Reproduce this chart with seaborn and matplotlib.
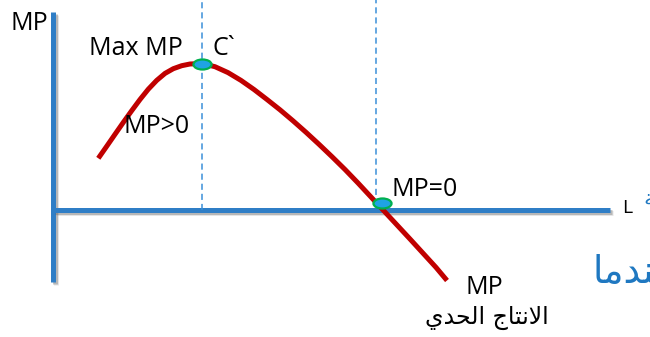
import matplotlib
matplotlib.use("Agg")
import seaborn as sns
import matplotlib.pyplot as plt
import matplotlib.patheffects as pe
from matplotlib.path import Path
from matplotlib.transforms import Affine2D

# Marginal product curve (L on x, MP on y)
labour = [4.53, 5.37, 6.20, 7.03, 7.87, 8.70, 9.53, 10.37, 11.20, 12.03, 12.87, 13.70,
          14.90, 16.20, 17.50, 18.80, 20.10, 21.40, 22.70, 24.00, 25.30, 26.60, 27.90,
          29.20, 30.50, 31.80, 33.10, 34.40, 35.70, 37.00, 38.30, 39.40]
mp = [5.17, 6.37, 7.57, 8.76, 9.93, 11.05, 12.08, 12.96, 13.66, 14.13, 14.43, 14.60,
      14.65, 14.33, 13.74, 12.96, 12.05, 11.05, 10.02, 8.92, 7.77, 6.57, 5.33,
      4.05, 2.70, 1.30, -0.10, -1.50, -2.90, -4.32, -5.74, -7.05]

# Highlighted points: max MP (C`) and MP = 0
point_l = [14.9, 32.9]
point_mp = [14.6, 0.7]

# Guide lines (dashed) from the L axis up
guide_l = [14.9, 32.3]
guide_bottom = [0.0, 0.5]

# Axes extents
axis_top, axis_bottom = 19.8, -7.2
axis_right = 55.7

# Labels
arabic_mp = "\uFEF1\uFEAA\uFEA4\uFEDF\uFE8D \uFE9D\uFE8E\uFE98\uFEE7\uFEFB\uFE8D"  # الانتاج الحدي
arabic_side = "\uFE8E\uFEE3\uFEAA\uFEE8\uFECB"  # عندما (cut off at the edge)

sns.set_theme(style="white")
plt.rcParams["font.family"] = ["Open Sans", "DejaVu Sans"]

AXIS_BLUE = "#2F7EC6"
RED = "#C00000"
DASH_BLUE = "#3A90D8"

fig = plt.figure(figsize=(6.5, 3.37), dpi=100)
ax = fig.add_axes([0, 0, 1, 1])
ax.set_xlim(-5.3, 59.7)
ax.set_ylim(-12.7, 21.0)
ax.axis("off")

shadow = [pe.SimpleLineShadow(offset=(1.5, -1.5), shadow_color="0.35", alpha=0.35),
          pe.SimpleLineShadow(offset=(2.5, -2.5), shadow_color="0.5", alpha=0.2),
          pe.Normal()]

# axes of the diagram
sns.lineplot(x=[0, 0], y=[axis_top, axis_bottom], sort=False, estimator=None,
             color=AXIS_BLUE, lw=3.6, ax=ax, path_effects=shadow, solid_capstyle="butt")
sns.lineplot(x=[0, axis_right], y=[0, 0], sort=False, estimator=None,
             color=AXIS_BLUE, lw=3.6, ax=ax, path_effects=shadow, solid_capstyle="butt")

# dashed guides
for gl, gb in zip(guide_l, guide_bottom):
    sns.lineplot(x=[gl, gl], y=[gb, 21.0], sort=False, estimator=None,
                 color=DASH_BLUE, lw=1.1, linestyle=(0, (4, 2.6)), ax=ax)

# MP curve
sns.lineplot(x=labour, y=mp, sort=False, estimator=None, color=RED, lw=3.6,
             ax=ax, solid_capstyle="butt", solid_joinstyle="round")

# elliptic markers
ellipse = Affine2D().scale(1.8, 1.0).transform_path(Path.unit_circle())
sns.scatterplot(x=point_l, y=point_mp, marker=ellipse, s=170, color="#1FA3E4",
                edgecolor="#00B050", linewidth=1.6, ax=ax, zorder=5)

txt = dict(fontsize=18, color="black", va="baseline", ha="left")
ax.text(-4.3, 18.0, "MP", **txt)
ax.text(3.6, 15.5, "Max MP", **txt)
ax.text(16.0, 15.5, "C`", **txt)
ax.text(7.0, 7.7, "MP>0", **txt)
ax.text(33.9, 1.4, "MP=0", **txt)
ax.text(41.2, -8.4, "MP", **txt)
ax.text(56.9, -0.3, "L", fontsize=14, color="black", va="baseline", ha="left")
ax.text(43.35, -11.4, arabic_mp, fontsize=17, color="black", va="baseline",
        ha="center", family="DejaVu Sans")
ax.text(54.0, -7.3, arabic_side, fontsize=27, color="#1F78C1", va="baseline",
        ha="left", family="DejaVu Sans")
ax.text(59.0, 0.5, "\uFE94", fontsize=16, color="#1F78C1", va="baseline",
        ha="left", family="DejaVu Sans")

fig.savefig("out.png", dpi=100)
